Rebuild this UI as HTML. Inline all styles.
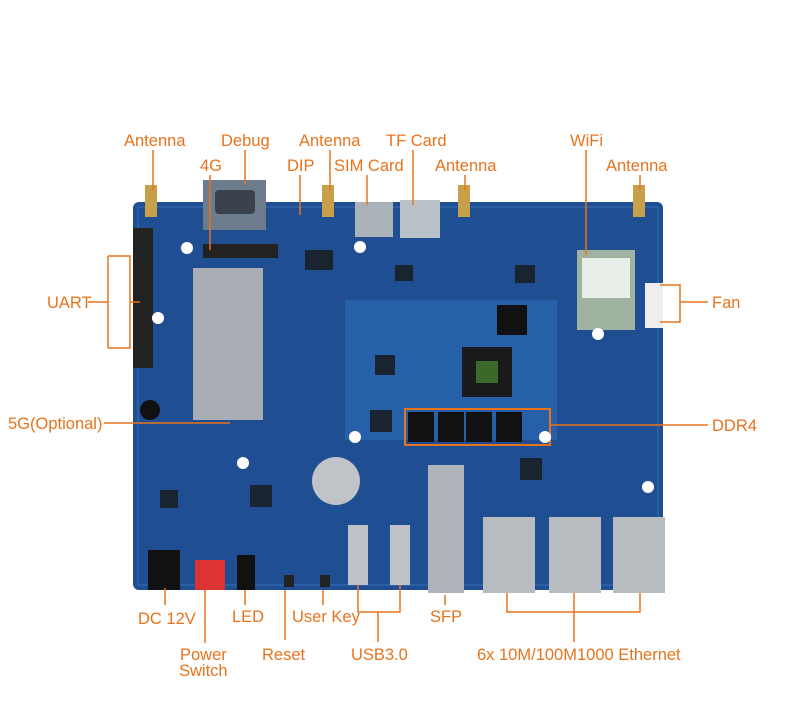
<!DOCTYPE html>
<html><head><meta charset="utf-8"><style>
html,body{margin:0;padding:0;background:#fff;}
svg text{font-family:"Liberation Sans",sans-serif;font-size:16.5px;fill:#e8731c;}
</style></head><body>
<svg width="790" height="703" viewBox="0 0 790 703" xmlns="http://www.w3.org/2000/svg">
<rect x="133" y="202" width="530" height="388" rx="6" fill="#1f4f92"/>
<rect x="138" y="207" width="520" height="378" fill="none" stroke="#2a5fa5" stroke-width="2"/>
<g fill="#c8a04a"><rect x="145" y="185" width="12" height="32"/><rect x="322" y="185" width="12" height="32"/><rect x="458" y="185" width="12" height="32"/><rect x="633" y="185" width="12" height="32"/></g>
<rect x="203" y="180" width="63" height="50" fill="#6d7c8c"/><rect x="215" y="190" width="40" height="24" rx="4" fill="#39424d"/>
<rect x="355" y="202" width="38" height="35" fill="#aab2ba"/><rect x="400" y="200" width="40" height="38" fill="#b8c0c8"/>
<rect x="133" y="228" width="20" height="140" fill="#222"/>
<rect x="193" y="268" width="70" height="152" fill="#a9aeb4"/>
<rect x="203" y="244" width="75" height="14" fill="#222"/>
<rect x="345" y="300" width="212" height="140" fill="#2560a8"/>
<rect x="462" y="347" width="50" height="50" fill="#1a1a1a"/><rect x="476" y="361" width="22" height="22" fill="#3a6a2a"/>
<rect x="497" y="305" width="30" height="30" fill="#111"/>
<g fill="#1a2430"><rect x="305" y="250" width="28" height="20"/><rect x="250" y="485" width="22" height="22"/><rect x="160" y="490" width="18" height="18"/><rect x="520" y="458" width="22" height="22"/><rect x="395" y="265" width="18" height="16"/><rect x="515" y="265" width="20" height="18"/><rect x="370" y="410" width="22" height="22"/><rect x="375" y="355" width="20" height="20"/></g>
<g fill="#111"><rect x="408" y="412" width="26" height="30"/><rect x="438" y="412" width="26" height="30"/><rect x="466" y="412" width="26" height="30"/><rect x="496" y="412" width="26" height="30"/></g>
<rect x="405" y="409" width="145" height="36" fill="none" stroke="#e8731c" stroke-width="2"/>
<rect x="577" y="250" width="58" height="80" fill="#9fb3a0"/><rect x="582" y="258" width="48" height="40" fill="#e8eee8"/>
<rect x="645" y="283" width="18" height="45" fill="#eee"/>
<circle cx="336" cy="481" r="24" fill="#c0c4c8"/>
<circle cx="150" cy="410" r="10" fill="#111"/>
<rect x="428" y="465" width="36" height="128" fill="#aeb4ba"/>
<rect x="348" y="525" width="20" height="60" fill="#bcc2c8"/><rect x="390" y="525" width="20" height="60" fill="#bcc2c8"/>
<rect x="483" y="517" width="52" height="76" fill="#b7bcc1"/><rect x="549" y="517" width="52" height="76" fill="#b7bcc1"/><rect x="613" y="517" width="52" height="76" fill="#b7bcc1"/>
<rect x="148" y="550" width="32" height="40" fill="#111"/>
<rect x="195" y="560" width="30" height="30" fill="#d33"/>
<rect x="237" y="555" width="18" height="35" fill="#111"/>
<rect x="284" y="575" width="10" height="12" fill="#222"/><rect x="320" y="575" width="10" height="12" fill="#222"/>
<g fill="#fff"><circle cx="187" cy="248" r="6"/><circle cx="360" cy="247" r="6"/><circle cx="598" cy="334" r="6"/><circle cx="243" cy="463" r="6"/><circle cx="355" cy="437" r="6"/><circle cx="545" cy="437" r="6"/><circle cx="648" cy="487" r="6"/><circle cx="158" cy="318" r="6"/></g>

<g stroke="#e8731c" stroke-width="1.5" fill="none">
<line x1="153" y1="150" x2="153" y2="190"/>
<line x1="245" y1="150" x2="245" y2="185"/>
<line x1="330" y1="150" x2="330" y2="190"/>
<line x1="413" y1="150" x2="413" y2="205"/>
<line x1="586" y1="150" x2="586" y2="255"/>
<line x1="210" y1="175" x2="210" y2="250"/>
<line x1="300" y1="175" x2="300" y2="215"/>
<line x1="367" y1="175" x2="367" y2="205"/>
<line x1="465" y1="175" x2="465" y2="190"/>
<line x1="640" y1="175" x2="640" y2="190"/>
<polyline points="108,256 130,256 130,348 108,348"/>
<line x1="88" y1="302" x2="108" y2="302"/>
<line x1="108" y1="256" x2="108" y2="348"/>
<line x1="130" y1="302" x2="140" y2="302"/>
<line x1="104" y1="423" x2="230" y2="423"/>
<line x1="550" y1="425" x2="708" y2="425"/>
<polyline points="660,285 680,285 680,322 660,322"/>
<line x1="680" y1="302" x2="708" y2="302"/>
<line x1="165" y1="588" x2="165" y2="605"/>
<line x1="205" y1="590" x2="205" y2="643"/>
<line x1="245" y1="590" x2="245" y2="605"/>
<line x1="285" y1="590" x2="285" y2="640"/>
<line x1="323" y1="590" x2="323" y2="605"/>
<polyline points="358,585 358,612 400,612 400,585"/>
<line x1="378" y1="612" x2="378" y2="642"/>
<line x1="445" y1="595" x2="445" y2="605"/>
<polyline points="507,593 507,612 640,612 640,593"/>
<line x1="574" y1="593" x2="574" y2="642"/>
</g>

<text x="124" y="146">Antenna</text>
<text x="221" y="146">Debug</text>
<text x="299" y="146">Antenna</text>
<text x="386" y="146">TF Card</text>
<text x="570" y="146">WiFi</text>
<text x="200" y="171">4G</text>
<text x="287" y="171">DIP</text>
<text x="334" y="171">SIM Card</text>
<text x="435" y="171">Antenna</text>
<text x="606" y="171">Antenna</text>
<text x="47" y="308">UART</text>
<text x="712" y="308">Fan</text>
<text x="8" y="429">5G(Optional)</text>
<text x="712" y="431">DDR4</text>
<text x="138" y="624">DC 12V</text>
<text x="232" y="622">LED</text>
<text x="292" y="622">User Key</text>
<text x="430" y="622">SFP</text>
<text x="180" y="660">Power</text>
<text x="179" y="676">Switch</text>
<text x="262" y="660">Reset</text>
<text x="351" y="660">USB3.0</text>
<text x="477" y="660">6x 10M/100M1000 Ethernet</text>
</svg>
</body></html>
